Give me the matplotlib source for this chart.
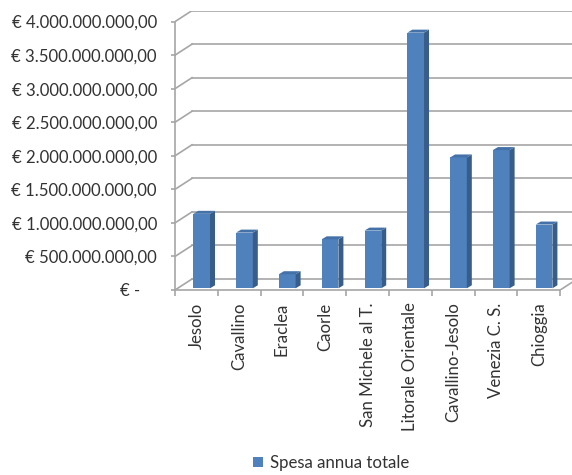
import numpy as np
from matplotlib import pyplot as plt
from matplotlib.patches import Polygon, Patch
from matplotlib.ticker import FuncFormatter

# data
comuni = ['Jesolo', 'Cavallino', 'Eraclea', 'Caorle', 'San Michele al T.',
          'Litorale Orientale', 'Cavallino-Jesolo', 'Venezia C. S.', 'Chioggia']
spesa = [1.11e9, 0.83e9, 0.21e9, 0.73e9, 0.86e9, 3.81e9, 1.95e9, 2.06e9, 0.95e9]
y_ticks = np.arange(0, 4.0e9 + 1, 0.5e9)
legend_label = 'Spesa annua totale'

plt.rcParams['font.family'] = ['Lato', 'DejaVu Sans']

text_col = '#333333'
grid_col = '#a6a6a6'
front_col = '#4f81bd'
side_col = '#385d8a'
top_col = '#4472a8'
fs = 12.1

W, H = 572, 475
fig = plt.figure(figsize=(W / 100, H / 100), dpi=100)

# pixel geometry of the pseudo 3d box
px_cat = 42.8           # pixels per category
px_val = 67.1 / 1e9     # pixels per euro
depth_x, depth_y = 17, 11
x0, y0 = 175, 290       # front corner (axis origin) in pixels

DX = depth_x / px_cat
DY = depth_y / px_val
n = len(comuni)
ax_w = n * px_cat + depth_x
ax_h = 4e9 * px_val + depth_y
ax = fig.add_axes([x0 / W, (H - y0) / H, ax_w / W, ax_h / H])
ax.set_xlim(-0.5, n - 0.5 + DX)
ax.set_ylim(0, 4e9 + DY)

# back wall gridlines and left wall diagonals
for v in y_ticks:
    ax.plot([-0.5 + DX, n - 0.5 + DX], [v + DY, v + DY], color=grid_col, lw=1.2, zorder=1)
    ax.plot([-0.5, -0.5 + DX], [v, v + DY], color=grid_col, lw=1.2, zorder=1)
# floor right edge
ax.plot([n - 0.5, n - 0.5 + DX], [0, DY], color=grid_col, lw=1.2, zorder=1)

# bars: front face, side and top
bx, bw = 0.123, 0.39
by = 1.7 / px_val
sx, sy = 5 / px_cat, 3 / px_val
x = np.arange(n)
ax.bar(x + bx, spesa, width=bw, bottom=by, color=front_col, zorder=3)
for xi, v in zip(x, spesa):
    xl = xi + bx - bw / 2
    xr = xi + bx + bw / 2
    top = by + v
    ax.add_patch(Polygon([(xr, by), (xr + sx, by + sy), (xr + sx, top + sy), (xr, top)],
                         closed=True, facecolor=side_col, edgecolor='none', zorder=3))
    ax.add_patch(Polygon([(xl, top), (xl + sx, top + sy), (xr + sx, top + sy), (xr, top)],
                         closed=True, facecolor=top_col, edgecolor='none', zorder=3))

# axes: only the front left and bottom lines
for s in ['top', 'right']:
    ax.spines[s].set_visible(False)
ax.spines['left'].set_bounds(0, 4e9)
ax.spines['bottom'].set_bounds(-0.5, n - 0.5)
for s in ['left', 'bottom']:
    ax.spines[s].set_color(grid_col)
    ax.spines[s].set_linewidth(1.2)
    ax.spines[s].set_zorder(2)

def euro(v, pos):
    if v == 0:
        return '€ -    '
    s = f'{v:,.2f}'.replace(',', 'X').replace('.', ',').replace('X', '.')
    return '€ ' + s

ax.set_yticks(y_ticks)
ax.yaxis.set_major_formatter(FuncFormatter(euro))
ax.tick_params(axis='y', length=3, width=1.2, color=grid_col, pad=10,
               labelsize=fs, labelcolor=text_col)

ax.set_xticks(x)
ax.set_xticklabels(comuni, rotation=90)
ax.set_xticks(np.arange(-0.5, n), minor=True)
ax.tick_params(axis='x', which='major', length=0, pad=9, labelsize=fs, labelcolor=text_col)
ax.tick_params(axis='x', which='minor', length=4, width=1.2, color=grid_col)

fig.legend(handles=[Patch(facecolor=front_col, label=legend_label)],
           loc='center', bbox_to_anchor=(331 / W, 1 - 463 / H), frameon=False,
           fontsize=fs, labelcolor=text_col, handlelength=0.6, handleheight=0.6,
           handletextpad=0.4)

fig.savefig('out.png', dpi=100)
